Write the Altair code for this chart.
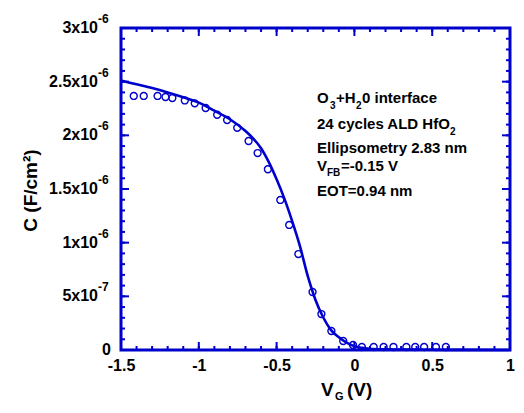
import altair as alt
import pandas as pd

BLUE = "#0000cc"
FONT = "Liberation Sans"

# measured points (open circles)
meas_v = [-1.418, -1.354, -1.265, -1.214, -1.170, -1.090, -1.026, -0.956, -0.882, -0.818,
          -0.753, -0.680, -0.622, -0.556, -0.476, -0.419, -0.360, -0.269, -0.212, -0.148,
          -0.072, -0.009, 0.048, 0.124, 0.188, 0.251, 0.334, 0.391, 0.448, 0.524, 0.588]
meas_c = [2.367e-6, 2.367e-6, 2.367e-6, 2.357e-6, 2.348e-6, 2.325e-6, 2.298e-6, 2.255e-6, 2.192e-6, 2.143e-6,
          2.070e-6, 1.947e-6, 1.835e-6, 1.684e-6, 1.398e-6, 1.165e-6, 0.894e-6, 0.540e-6, 0.335e-6, 0.177e-6,
          0.084e-6, 0.047e-6, 0.028e-6, 0.028e-6, 0.028e-6, 0.028e-6, 0.028e-6, 0.028e-6, 0.028e-6, 0.028e-6, 0.028e-6]

# fitted curve (solid line)
fit_v = [-1.5, -1.4, -1.3, -1.2, -1.1, -1.0, -0.9, -0.8, -0.7, -0.65, -0.6, -0.55, -0.5, -0.45,
         -0.4, -0.35, -0.3, -0.25, -0.2, -0.15, -0.1, -0.05, 0.0, 0.05, 0.1, 0.2, 0.3, 0.5, 0.7, 1.0]
fit_c = [2.51e-6, 2.475e-6, 2.44e-6, 2.40e-6, 2.355e-6, 2.305e-6, 2.23e-6, 2.15e-6, 2.04e-6, 1.97e-6,
         1.88e-6, 1.75e-6, 1.59e-6, 1.41e-6, 1.20e-6, 0.967e-6, 0.69e-6, 0.466e-6, 0.303e-6, 0.185e-6,
         0.118e-6, 0.068e-6, 0.035e-6, 0.02e-6, 0.012e-6, 0.006e-6, 0.004e-6, 0.002e-6, 0.001e-6, 0.0]

x_major = [-1.5, -1.0, -0.5, 0.0, 0.5, 1.0]
x_minor = [round(-1.5 + 0.1 * i, 2) for i in range(26)]
y_major = [0.0, 0.5e-6, 1.0e-6, 1.5e-6, 2.0e-6, 2.5e-6, 3.0e-6]
y_minor = [i * 1e-7 for i in range(31)]

y_lab_vals = [0.5e-6, 1.0e-6, 1.5e-6, 2.0e-6, 2.5e-6, 3.0e-6]
y_lab_base = ["5x10", "1x10", "1.5x10", "2x10", "2.5x10", "3x10"]
y_lab_exp = ["-7", "-6", "-6", "-6", "-6", "-6"]

W, H = 389, 322
xs = alt.Scale(domain=[-1.5, 1.0], nice=False, zero=False)
ys = alt.Scale(domain=[0, 3e-6], nice=False, zero=False)

fit_df = pd.DataFrame({"v": fit_v, "c": fit_c})
meas_df = pd.DataFrame({"v": meas_v, "c": meas_c})

line = alt.Chart(fit_df).mark_line(color=BLUE, strokeWidth=2.6, interpolate="monotone").encode(
    x=alt.X("v:Q", scale=xs, axis=alt.Axis(title=None, ticks=False, domain=False, grid=False,
                                           values=x_major, labelFont=FONT, labelFontSize=16,
                                           labelFontWeight="bold", labelColor="black",
                                           labelFlush=False, labelOverlap=False,
                                           labelPadding=7, labelExpr="'' + datum.value")),
    y=alt.Y("c:Q", scale=ys, axis=alt.Axis(title="C (F/cm²)", labels=False, ticks=False,
                                           domain=False, grid=False, titleFont=FONT,
                                           titleFontSize=19, titleFontWeight="bold",
                                           titleColor="black", titleX=-91, titleY=162,
                                           titleAngle=270, titleAlign="center",
                                           titleBaseline="middle")),
)

pts = alt.Chart(meas_df).mark_point(shape="circle", filled=False, color=BLUE, size=48,
                                    strokeWidth=1.4, opacity=1).encode(
    x=alt.X("v:Q", scale=xs), y=alt.Y("c:Q", scale=ys))


def xticks(vals, length):
    df = pd.DataFrame({"v": vals})
    bot = alt.Chart(df).mark_rule(color=BLUE, strokeWidth=2).encode(
        x=alt.X("v:Q", scale=xs), y=alt.value(H), y2=alt.value(H - length))
    top = alt.Chart(df).mark_rule(color=BLUE, strokeWidth=2).encode(
        x=alt.X("v:Q", scale=xs), y=alt.value(0), y2=alt.value(length))
    return [bot, top]


def yticks(vals, length):
    df = pd.DataFrame({"c": vals})
    left = alt.Chart(df).mark_rule(color=BLUE, strokeWidth=2).encode(
        y=alt.Y("c:Q", scale=ys), x=alt.value(0), x2=alt.value(length))
    right = alt.Chart(df).mark_rule(color=BLUE, strokeWidth=2).encode(
        y=alt.Y("c:Q", scale=ys), x=alt.value(W), x2=alt.value(W - length))
    return [left, right]


ticks = xticks(x_minor, 4) + xticks(x_major, 8) + yticks(y_minor, 4) + yticks(y_major, 8)

ylab_df = pd.DataFrame({"c": y_lab_vals, "b": y_lab_base, "e": y_lab_exp})
ybase = alt.Chart(ylab_df).mark_text(align="right", baseline="middle", font=FONT, fontSize=16,
                                     fontWeight="bold", color="black").encode(
    y=alt.Y("c:Q", scale=ys), x=alt.value(-23), text="b:N")
yexp = alt.Chart(ylab_df).mark_text(align="left", baseline="middle", font=FONT, fontSize=12,
                                    fontWeight="bold", color="black", dy=-9).encode(
    y=alt.Y("c:Q", scale=ys), x=alt.value(-23), text="e:N")
yzero = alt.Chart(pd.DataFrame({"c": [0.0], "t": ["0"]})).mark_text(
    align="right", baseline="middle", font=FONT, fontSize=16, fontWeight="bold", color="black").encode(
    y=alt.Y("c:Q", scale=ys), x=alt.value(-10), text="t:N")


def piece(text, x, y, size, baseline="middle"):
    return alt.Chart(pd.DataFrame({"t": [text]})).mark_text(
        align="left", baseline=baseline, font=FONT, fontSize=size, fontWeight="bold",
        color="black").encode(x=alt.value(x), y=alt.value(y), text="t:N")


ann = [
    piece("O", 196, 70, 15), piece("3", 209, 78, 10), piece("+H", 215, 70, 15),
    piece("2", 235, 78, 10), piece("0 interface", 241, 70, 15),
    piece("24 cycles ALD HfO", 196, 96, 15), piece("2", 329, 104, 10),
    piece("Ellipsometry 2.83 nm", 196, 120, 15),
    piece("V", 196, 138, 15), piece("FB", 206, 145, 10), piece("=-0.15 V", 220, 138, 15),
    piece("EOT=0.94 nm", 196, 163, 15),
    piece("V", 200, 368, 19, "alphabetic"), piece("G", 214, 372, 11, "alphabetic"),
    piece("(V)", 226, 368, 19, "alphabetic"),
]

chart = alt.layer(line, pts, *ticks, ybase, yexp, yzero, *ann).properties(
    width=W, height=H,
    background="white",
    autosize=alt.AutoSizeParams(type="none"),
    padding={"left": 113, "top": 20, "right": 6, "bottom": 55},
).configure_view(stroke=BLUE, strokeWidth=3)

chart.save("out.html", embed_options={"renderer": "svg", "actions": False})
